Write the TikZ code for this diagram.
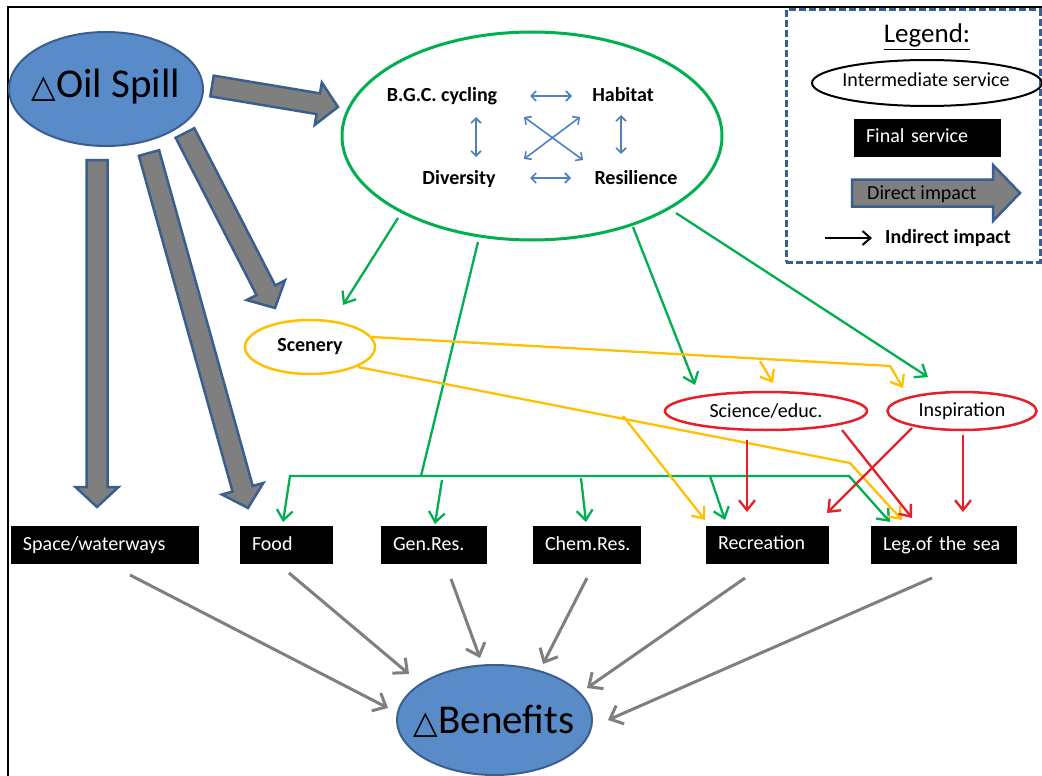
\documentclass[tikz,border=0pt]{standalone}
\usepackage{fontspec}
\setmainfont{Carlito}
\newfontfamily\dvfont{DejaVu Sans}
\usetikzlibrary{shapes.geometric,arrows.meta,calc}
\definecolor{obfill}{RGB}{89,139,201}
\definecolor{obdraw}{RGB}{58,95,142}
\definecolor{agray}{RGB}{127,127,127}
\definecolor{ggreen}{RGB}{0,176,80}
\definecolor{oorange}{RGB}{255,192,0}
\definecolor{rred}{RGB}{230,32,40}
\definecolor{lblue}{RGB}{79,129,189}
% fat block arrow: #1 from, #2 to (tip), #3 shaft half width, #4 head half width, #5 head length
\newcommand\fatarr[5]{%
  \path[fat] ($(#1)!#3!90:(#2)$) -- ($($(#2)!#5!(#1)$)!#3!90:(#2)$)
    -- ($($(#2)!#5!(#1)$)!#4!90:(#2)$) -- (#2)
    -- ($($(#2)!#5!(#1)$)!#4!-90:(#2)$) -- ($($(#2)!#5!(#1)$)!#3!-90:(#2)$)
    -- ($(#1)!#3!-90:(#2)$) -- cycle;}
\begin{document}
\begin{tikzpicture}[x=1pt,y=-1pt,
  every node/.style={font=\fontsize{20}{24}\selectfont},
  tx/.style={inner sep=0pt,text height=14pt,text depth=4pt},
  bt/.style={tx,font=\fontsize{20}{24}\selectfont\bfseries},
  bluell/.style={ellipse,fill=obfill,draw=obdraw,line width=2pt,inner sep=0pt},
  fbox/.style={fill=black,text=white,inner ysep=0pt,inner xsep=12pt,minimum height=38pt,
    align=left,text height=14pt,text depth=4pt},
  fat/.style={fill=agray,draw=obdraw,line width=2.5pt,line join=miter},
  gline/.style={draw=ggreen,line width=2.3pt},
  garr/.style={gline,-{Straight Barb[length=10pt,width=16pt]}},
  oline/.style={draw=oorange,line width=2.3pt},
  oarr/.style={oline,-{Straight Barb[length=10pt,width=16pt]}},
  rarr/.style={draw=rred,line width=2.3pt,-{Straight Barb[length=10pt,width=16pt]}},
  barr/.style={draw=lblue,line width=1.6pt,{Straight Barb[length=5pt,width=10pt]}-{Straight Barb[length=5pt,width=10pt]}},
  benarr/.style={draw=agray,line width=3pt,-{Straight Barb[length=11pt,width=20pt]}},
]
\useasboundingbox (0,0) rectangle (1042,776);
\fill[white] (0,0) rectangle (1042,776);
% frame
\draw[line width=2pt] (8,776) -- (8,7) -- (1042,7);

% ---------- main ellipses ----------
\node[bluell,minimum width=194pt,minimum height=114pt] (oil) at (106,89) {};
\node[anchor=base,inner sep=0pt] (oiltxt) at (106,98)
  {{\dvfont\fontsize{32}{32}\selectfont △}\fontsize{41}{41}\selectfont Oil Spill};

\node[ellipse,draw=ggreen,line width=3pt,minimum width=380pt,minimum height=208pt,inner sep=0pt] (bio) at (532,136) {};
\node[bt] (bgc) at (442,97) {B.G.C. cycling};
\node[bt] (hab) at (623,97) {Habitat};
\node[bt] (div) at (459,179) {Diversity};
\node[bt] (res) at (636,179) {Resilience};
\coordinate (h1) at (530,96);  \coordinate (h2) at (572,96);
\coordinate (h3) at (530,178); \coordinate (h4) at (571,178);
\coordinate (v1) at (476,117); \coordinate (v2) at (476,157);
\coordinate (v3) at (621,115); \coordinate (v4) at (621,154);
\coordinate (c1) at (524,117); \coordinate (c2) at (583,160);
\coordinate (c3) at (580,117); \coordinate (c4) at (524,159);
\draw[barr] (h1) -- (h2);
\draw[barr] (h3) -- (h4);
\draw[barr] (v1) -- (v2);
\draw[barr] (v3) -- (v4);
\draw[barr] (c1) -- (c2);
\draw[barr] (c3) -- (c4);

\node[ellipse,draw=oorange,line width=2.5pt,minimum width=130pt,minimum height=54pt,inner sep=0pt,
  font=\fontsize{20}{24}\selectfont\bfseries] (scen) at (310,347) {Scenery};
\node[ellipse,draw=rred,line width=2.5pt,minimum width=202pt,minimum height=38pt,inner sep=0pt] (sci) at (766,411) {Science/educ.};
\node[ellipse,draw=rred,line width=2.5pt,minimum width=149pt,minimum height=38pt,inner sep=0pt] (insp) at (962,411) {Inspiration};

% ---------- final services ----------
\node[fbox,text width=164pt] (space) at (105,545) {Space/waterways};
\node[fbox,text width=69pt]  (food)  at (286.5,545) {Food};
\node[fbox,text width=82pt]  (gen)   at (434,545) {Gen.Res.};
\node[fbox,text width=84pt]  (chem)  at (587,545) {Chem.Res.};
\node[fbox,text width=99pt]  (rec)   at (767.5,544.5) {Recreation};
\node[fbox,text width=122pt] (leg)   at (944,545) {Leg.of the sea};

\node[bluell,minimum width=195pt,minimum height=110pt] (ben) at (494.5,720) {};
\node[anchor=base,inner sep=0pt] (bentxt) at (494,733)
  {{\dvfont\fontsize{32}{32}\selectfont △}\fontsize{41}{41}\selectfont Benefits};

% ---------- direct impacts (block arrows) ----------
\coordinate (d1s) at (212,86);  \coordinate (d1e) at (338,107);
\coordinate (d2s) at (97,160);  \coordinate (d2e) at (97,507);
\coordinate (d3s) at (149,153); \coordinate (d3e) at (248,508);
\coordinate (d4s) at (185,133); \coordinate (d4e) at (275,308);
\fatarr{d1s}{d1e}{10.5pt}{21.5pt}{20pt}
\fatarr{d2s}{d2e}{10.5pt}{21.5pt}{20pt}
\fatarr{d3s}{d3e}{10.5pt}{21.5pt}{20pt}
\fatarr{d4s}{d4e}{10.5pt}{21.5pt}{20pt}

% ---------- green (ecosystem) impacts ----------
\coordinate (g1s) at (398,218); \coordinate (g1e) at (343,305);
\draw[garr] (g1s) -- (g1e);
\coordinate (g2s) at (478,242); \coordinate (gj) at (421,476);
\coordinate (gl) at (290,476);  \coordinate (gr) at (849,476);
\coordinate (gfood) at (283,522); \coordinate (gleg) at (890,522);
\draw[gline] (g2s) -- (gj);
\draw[garr] (gj) -- (gl) -- (gfood);
\draw[garr] (gj) -- (gr) -- (gleg);
\coordinate (gb1) at (442,480); \coordinate (gb1e) at (435,524);
\coordinate (gb2) at (581,478); \coordinate (gb2e) at (586,522);
\coordinate (gb3) at (710,476); \coordinate (gb3e) at (725,520);
\draw[garr] (gb1) -- (gb1e);
\draw[garr] (gb2) -- (gb2e);
\draw[garr] (gb3) -- (gb3e);
\coordinate (g3s) at (633,227); \coordinate (g3e) at (695,385);
\draw[garr] (g3s) -- (g3e);
\coordinate (g4s) at (676,213); \coordinate (g4e) at (928,377);
\draw[garr] (g4s) -- (g4e);

% ---------- orange (scenery) impacts ----------
\coordinate (o1s) at (372,337); \coordinate (o1k) at (890,366); \coordinate (o1e) at (903,388);
\coordinate (o1b) at (760,361); \coordinate (o1be) at (773,383);
\draw[oarr] (o1s) -- (o1k) -- (o1e);
\draw[oarr] (o1b) -- (o1be);
\coordinate (o2s) at (358,367); \coordinate (o2k) at (850,463); \coordinate (o2e) at (902,520);
\coordinate (o2b) at (623,416); \coordinate (o2be) at (705,520);
\draw[oarr] (o2s) -- (o2k) -- (o2e);
\draw[oarr] (o2b) -- (o2be);

% ---------- red impacts ----------
\coordinate (r1s) at (747,440); \coordinate (r1e) at (747,512);
\coordinate (r2s) at (842,430); \coordinate (r2e) at (912,518);
\coordinate (r3s) at (912,428); \coordinate (r3e) at (827,513);
\coordinate (r4s) at (963,435); \coordinate (r4e) at (963,512);
\draw[rarr] (r1s) -- (r1e);
\draw[rarr] (r2s) -- (r2e);
\draw[rarr] (r3s) -- (r3e);
\draw[rarr] (r4s) -- (r4e);

% ---------- to benefits ----------
\coordinate (b1s) at (130,575); \coordinate (b1e) at (388,708);
\coordinate (b2s) at (289,573); \coordinate (b2e) at (409,674);
\coordinate (b3s) at (451,579); \coordinate (b3e) at (480,658);
\coordinate (b4s) at (587,578); \coordinate (b4e) at (543,664);
\coordinate (b5s) at (745,578); \coordinate (b5e) at (587,688);
\coordinate (b6s) at (932,578); \coordinate (b6e) at (608,720);
\draw[benarr] (b1s) -- (b1e);
\draw[benarr] (b2s) -- (b2e);
\draw[benarr] (b3s) -- (b3e);
\draw[benarr] (b4s) -- (b4e);
\draw[benarr] (b5s) -- (b5e);
\draw[benarr] (b6s) -- (b6e);

% ---------- legend ----------
\node[draw=obdraw,line width=3pt,dash pattern=on 7pt off 3pt,minimum width=254pt,minimum height=252pt,inner sep=0pt] (legbox) at (913,136) {};
\node[anchor=base,inner sep=0pt,font=\fontsize{27}{30}\selectfont] (legt) at (927,43) {\underline{Legend:}};
\node[ellipse,draw=black,line width=2pt,minimum width=230pt,minimum height=46pt,inner sep=0pt] (legell) at (927,83) {};
\node[tx] (legelltxt) at (926,82) {Intermediate service};
\node[fbox,text width=123pt] (legfin) at (927.5,137.5) {Final service};
\coordinate (ld0) at (852,193); \coordinate (ld1) at (1020,193);
\fatarr{ld0}{ld1}{13.5pt}{28pt}{27pt}
\node[tx,anchor=west] (legdir) at (867,194) {Direct impact};
\node[bt,anchor=west] (legind) at (885,238) {Indirect impact};
\coordinate (lis) at (825,238);
\draw[line width=2pt,-{Straight Barb[length=8pt,width=14pt]},shorten >=13pt] (lis) -- (legind.west);
\end{tikzpicture}
\end{document}
